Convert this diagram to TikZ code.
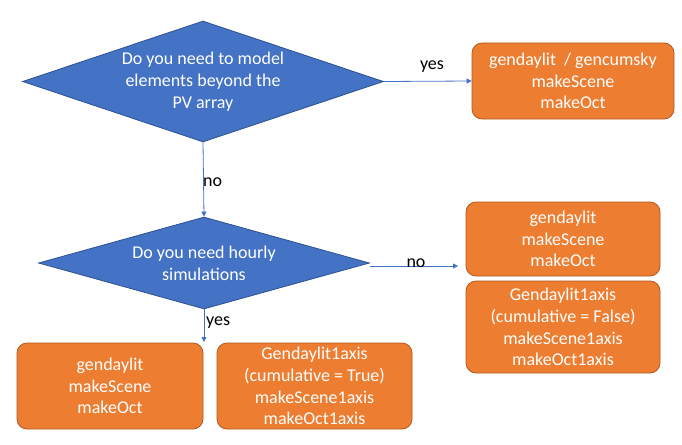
\documentclass[tikz,border=0pt]{standalone}
\usepackage{fontspec}
\setmainfont{Carlito}
\usetikzlibrary{shapes.geometric,arrows.meta}
\definecolor{diafill}{HTML}{4472C4}
\definecolor{diadraw}{HTML}{2F528F}
\definecolor{boxfill}{HTML}{ED7D31}
\definecolor{boxdraw}{HTML}{AE5A21}
\definecolor{arrcol}{HTML}{4472C4}
\begin{document}
\begin{tikzpicture}[x=1pt,y=-1pt,
  dia/.style={diamond,fill=diafill,draw=diadraw,line width=0.8pt,inner sep=0pt},
  diatext/.style={text=white,align=center,font=\fontsize{18}{22}\selectfont},
  box/.style={rounded corners=10pt,fill=boxfill,draw=boxdraw,line width=0.8pt,text=white,align=center,font=\fontsize{18}{21.7}\selectfont,inner sep=0pt},
  arr/.style={draw=arrcol,line width=0.8pt,-{Triangle[length=5pt,width=5pt]}},
  lab/.style={font=\fontsize{18}{20}\selectfont,text=black,inner sep=0pt}]
\useasboundingbox (0,0) rectangle (682,444);
\node[dia,minimum width=361pt,minimum height=121pt] (d1) at (203,81.5) {};
\node[diatext] (t1) at (d1.center) {Do you need to model\\elements beyond the\\PV array};
\node[dia,minimum width=331pt,minimum height=92pt] (d2) at (204,263) {};
\node[diatext] (t2) at (d2.center) {Do you need hourly\\simulations};
\node[box,minimum width=202pt,minimum height=76pt] (b1) at (573,81) {gendaylit~~/ gencumsky\\makeScene\\makeOct};
\node[box,minimum width=194pt,minimum height=74pt] (b2) at (563,239) {gendaylit\\makeScene\\makeOct};
\node[box,minimum width=194pt,minimum height=92pt] (b3) at (563,327) {Gendaylit1axis\\(cumulative = False)\\makeScene1axis\\makeOct1axis};
\node[box,minimum width=186pt,minimum height=86pt] (b4) at (110,386) {gendaylit\\makeScene\\makeOct};
\node[box,minimum width=195pt,minimum height=86pt] (b5) at (314.5,386) {Gendaylit1axis\\(cumulative = True)\\makeScene1axis\\makeOct1axis};
\coordinate (e2) at (458,266);
\coordinate (s2) at (204,342);
\draw[arr] (d1.east) -- (b1.west);
\draw[arr] (d1.south) -- (d2.north);
\draw[arr] (d2.east |- e2) -- (e2);
\draw[arr] (d2.south) -- (s2);
\node[lab] (ly1) at (432,67) {yes};
\node[lab,anchor=west] (ln1) at (203,182) {no};
\node[lab] (ln2) at (416,263) {no};
\node[lab,anchor=west] (ly2) at (206,323) {yes};
\end{tikzpicture}
\end{document}
